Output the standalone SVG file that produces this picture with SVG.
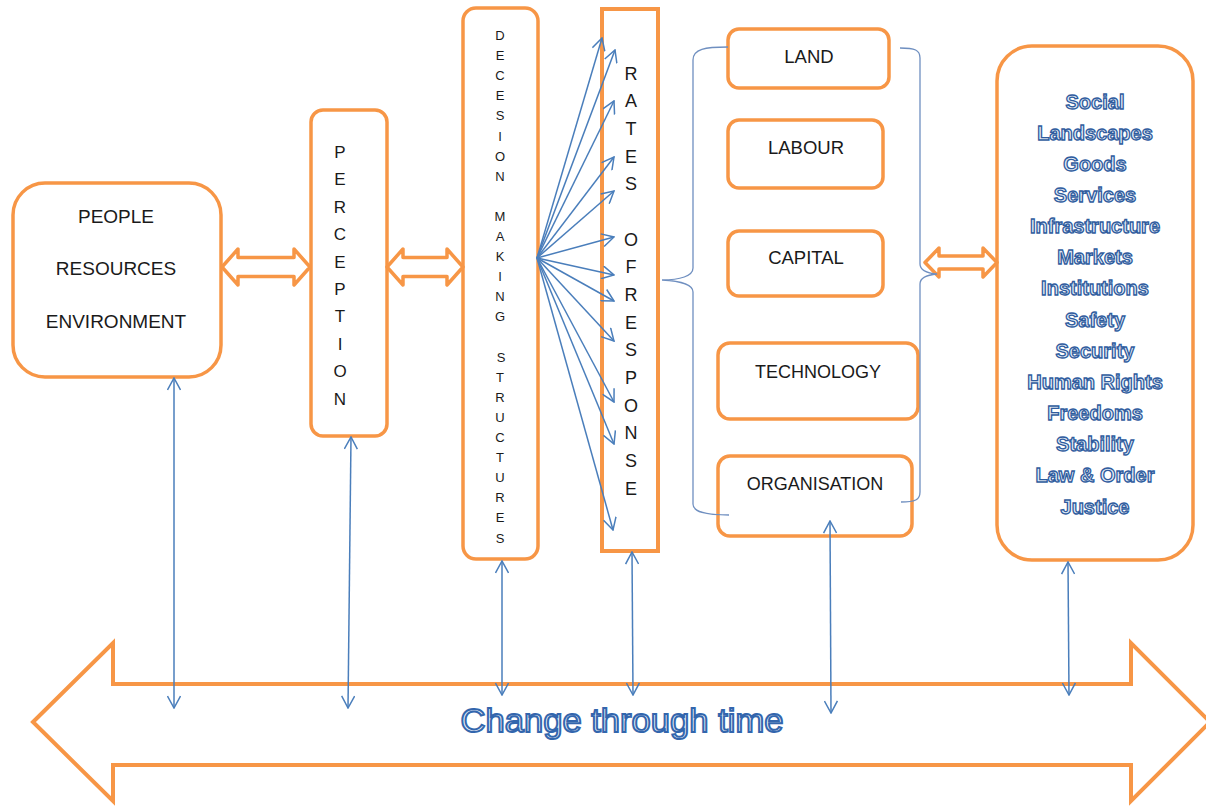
<svg xmlns="http://www.w3.org/2000/svg" width="1206" height="806" viewBox="0 0 1206 806">
<defs>
<style>
.box{fill:#fff;stroke:#f79646;stroke-width:3.5}
.dbl{fill:#fff;stroke:#f79646;stroke-width:3.5;stroke-linejoin:round}
.lbl{font-family:"Liberation Sans",Arial,sans-serif;fill:#1a1a1a;text-anchor:middle}
.vt{font-family:"Liberation Sans",Arial,sans-serif;fill:#1a1a1a;text-anchor:middle}
.out{font-family:"Liberation Sans",Arial,sans-serif;font-weight:bold;font-size:20px;fill:#e4ecf7;stroke:#2f5c9e;stroke-width:1.3;text-anchor:middle}
.con{fill:none;stroke:#4a7ebb;stroke-width:1.5}
.brace{fill:none;stroke:#6f8fc0;stroke-width:1.3}
</style>
<marker id="ah" viewBox="0 0 14 14" refX="13" refY="7" markerWidth="14" markerHeight="14" markerUnits="userSpaceOnUse" orient="auto-start-reverse">
<path d="M1,0.5 L13,7 L1,13.5" fill="none" stroke="#4a7ebb" stroke-width="1.5"/>
</marker>
</defs>

<g id="timeline">
<path d="M33,722 L113,643 L113,684 L1131,684 L1131,643 L1210,722 L1131,801 L1131,765 L113,765 L113,801 Z" fill="#fff" stroke="#f79646" stroke-width="4" stroke-linejoin="miter"/>
<text x="622" y="732" font-family="'Liberation Sans',Arial,sans-serif" font-size="33" fill="#e8eff8" stroke="#3366ad" stroke-width="1.9" text-anchor="middle" textLength="323" lengthAdjust="spacingAndGlyphs">Change through time</text>
</g>

<g id="people">
<rect class="box" x="13" y="183" width="208" height="194" rx="32"/>
<text class="lbl" font-size="19" x="116" y="223">PEOPLE</text>
<text class="lbl" font-size="19" x="116" y="275">RESOURCES</text>
<text class="lbl" font-size="19" x="116" y="328">ENVIRONMENT</text>
</g>

<g id="perception">
<rect class="box" x="311" y="110" width="76" height="326" rx="12"/>
<text class="vt" font-size="17"><tspan x="340" y="158">P</tspan><tspan x="340" dy="27.4">E</tspan><tspan x="340" dy="27.4">R</tspan><tspan x="340" dy="27.4">C</tspan><tspan x="340" dy="27.4">E</tspan><tspan x="340" dy="27.4">P</tspan><tspan x="340" dy="27.4">T</tspan><tspan x="340" dy="27.4">I</tspan><tspan x="340" dy="27.4">O</tspan><tspan x="340" dy="27.4">N</tspan></text>
</g>

<g id="decision">
<rect class="box" x="463" y="8" width="75" height="551" rx="13"/>
<text class="vt" font-size="13"><tspan x="500" y="40">D</tspan><tspan x="500" dy="20.1">E</tspan><tspan x="500" dy="20.1">C</tspan><tspan x="500" dy="20.1">E</tspan><tspan x="500" dy="20.1">S</tspan><tspan x="500" dy="20.1">I</tspan><tspan x="500" dy="20.1">O</tspan><tspan x="500" dy="20.1">N</tspan><tspan x="500" dy="40.2">M</tspan><tspan x="500" dy="20.1">A</tspan><tspan x="500" dy="20.1">K</tspan><tspan x="500" dy="20.1">I</tspan><tspan x="500" dy="20.1">N</tspan><tspan x="500" dy="20.1">G</tspan><tspan x="501" dy="40.2">S</tspan><tspan x="500" dy="20.1">T</tspan><tspan x="500" dy="20.1">R</tspan><tspan x="500" dy="20.1">U</tspan><tspan x="500" dy="20.1">C</tspan><tspan x="500" dy="20.1">T</tspan><tspan x="500" dy="20.1">U</tspan><tspan x="500" dy="20.1">R</tspan><tspan x="500" dy="20.1">E</tspan><tspan x="500" dy="20.1">S</tspan></text>
</g>

<g id="rates">
<rect x="602" y="9" width="56" height="542" fill="#fff" stroke="#f79646" stroke-width="4"/>
<text class="vt" font-size="18"><tspan x="631" y="79.5">R</tspan><tspan x="631" dy="27.67">A</tspan><tspan x="631" dy="27.67">T</tspan><tspan x="631" dy="27.67">E</tspan><tspan x="631" dy="27.67">S</tspan><tspan x="631" dy="55.34">O</tspan><tspan x="631" dy="27.67">F</tspan><tspan x="631" dy="27.67">R</tspan><tspan x="631" dy="27.67">E</tspan><tspan x="631" dy="27.67">S</tspan><tspan x="631" dy="27.67">P</tspan><tspan x="631" dy="27.67">O</tspan><tspan x="631" dy="27.67">N</tspan><tspan x="631" dy="27.67">S</tspan><tspan x="631" dy="27.67">E</tspan></text>
</g>

<g id="land">
<rect class="box" x="728" y="29" width="161" height="59" rx="11"/>
<text class="lbl" font-size="18.5" x="809" y="63">LAND</text>
</g>
<g id="labour">
<rect class="box" x="728" y="120" width="155" height="68" rx="11"/>
<text class="lbl" font-size="18.5" x="806" y="154">LABOUR</text>
</g>
<g id="capital">
<rect class="box" x="728" y="231" width="155" height="65" rx="11"/>
<text class="lbl" font-size="18.5" x="806" y="264">CAPITAL</text>
</g>
<g id="technology">
<rect class="box" x="718" y="343" width="200" height="76" rx="12"/>
<text class="lbl" font-size="18" x="818" y="378">TECHNOLOGY</text>
</g>
<g id="organisation">
<rect class="box" x="718" y="456" width="194" height="80" rx="12"/>
<text class="lbl" font-size="18" x="815" y="490">ORGANISATION</text>
</g>

<g id="outcomes">
<rect class="box" x="997" y="46" width="196" height="514" rx="35"/>
<text class="out" x="1095" y="109">Social</text>
<text class="out" x="1095" y="140">Landscapes</text>
<text class="out" x="1095" y="171">Goods</text>
<text class="out" x="1095" y="202">Services</text>
<text class="out" x="1095" y="233">Infrastructure</text>
<text class="out" x="1095" y="264">Markets</text>
<text class="out" x="1095" y="295">Institutions</text>
<text class="out" x="1095" y="327">Safety</text>
<text class="out" x="1095" y="358">Security</text>
<text class="out" x="1095" y="389">Human Rights</text>
<text class="out" x="1095" y="420">Freedoms</text>
<text class="out" x="1095" y="451">Stability</text>
<text class="out" x="1095" y="482">Law &amp; Order</text>
<text class="out" x="1095" y="514">Justice</text>
</g>

<g id="connectors">
<path class="dbl" d="M222,267 L238,249 L238,257.5 L294,257.5 L294,249 L310,267 L294,285 L294,276.5 L238,276.5 L238,285 Z"/>
<path class="dbl" d="M387,267 L403,249 L403,257.5 L447,257.5 L447,249 L463,267 L447,285 L447,276.5 L403,276.5 L403,285 Z"/>
<path class="dbl" d="M925,262.5 L939,248 L939,256 L983,256 L983,248 L997,262.5 L983,277 L983,269 L939,269 L939,277 Z"/>

<path class="brace" d="M728,47 C705,47 693,49 693,60 L693,268 C693,276 680,280 662,280 C680,281 693,284 693,292 L693,504 C693,512 705,515 729,515"/>
<path class="brace" d="M900,48 C915,48 920,50 920,58 L920,264 C920,270 926,273 937,274 C926,275 920,278 920,284 L920,492 C920,500 915,502 901,502"/>

<g class="con" marker-end="url(#ah)">
<line x1="537" y1="258" x2="602" y2="38"/>
<line x1="537" y1="258" x2="615" y2="50"/>
<line x1="537" y1="258" x2="614" y2="101"/>
<line x1="537" y1="258" x2="614" y2="157"/>
<line x1="537" y1="258" x2="614" y2="191"/>
<line x1="537" y1="258" x2="614" y2="237"/>
<line x1="537" y1="258" x2="614" y2="275"/>
<line x1="537" y1="258" x2="614" y2="301"/>
<line x1="537" y1="258" x2="614" y2="341"/>
<line x1="537" y1="258" x2="614" y2="402"/>
<line x1="537" y1="258" x2="614" y2="444"/>
<line x1="537" y1="258" x2="613" y2="530"/>
</g>

<g class="con" marker-start="url(#ah)" marker-end="url(#ah)">
<line x1="174" y1="378" x2="174" y2="708"/>
<line x1="351" y1="437" x2="348" y2="708"/>
<line x1="502" y1="561" x2="502" y2="695"/>
<line x1="632" y1="552" x2="633" y2="695"/>
<line x1="830" y1="521" x2="831" y2="713"/>
<line x1="1068" y1="562" x2="1069" y2="695"/>
</g>
</g>
</svg>
